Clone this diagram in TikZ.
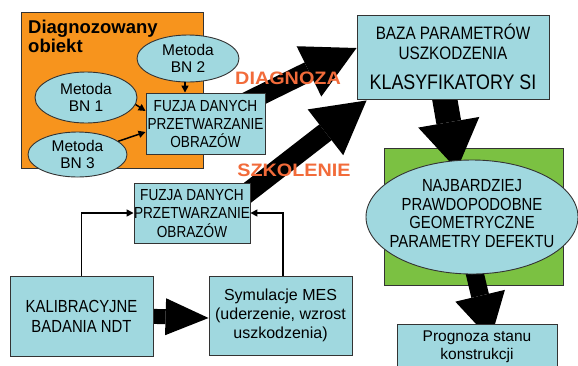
\documentclass[tikz,border=0pt]{standalone}
\usepackage{fontspec}
\setmainfont{Liberation Sans}
\newfontfamily\nar{Liberation Sans}[FakeStretch=0.85]
\newfontfamily\lblfont{Liberation Sans}[FakeStretch=1.1]
\usetikzlibrary{arrows.meta,shapes.geometric,calc}
\definecolor{cy}{HTML}{A0D8DF}
\definecolor{orbox}{HTML}{F7941D}
\definecolor{grbox}{HTML}{7BC142}
\definecolor{lbl}{HTML}{F26B3A}
\definecolor{edge}{HTML}{333333}
\pgfdeclarelayer{back}
\pgfdeclarelayer{mid}
\pgfsetlayers{back,mid,main}
\begin{document}
\begin{tikzpicture}[x=1pt,y=-1pt,
 box/.style={draw=edge, fill=cy, line width=0.9pt, inner sep=0pt, align=center, text=black},
 oval/.style={ellipse, draw=edge, fill=cy, line width=0.9pt, inner sep=0pt, align=center, text=black},
 frame/.style={draw=edge, line width=0.9pt, inner sep=0pt},
 txt/.style={inner sep=0pt, align=center, text=black},
 arr/.style={line width=1.5pt, -{Triangle[length=7pt,width=7pt]}},
 bigarrow/.style={draw=black, line cap=butt},
 capt/.style={inner sep=0pt, font=\lblfont\bfseries\fontsize{18}{20}\selectfont, text=lbl},
 bnfont/.style={font=\fontsize{15.5}{17}\selectfont}
]
\useasboundingbox (0,0) rectangle (578,365);
\clip (0,0) rectangle (578,365);

\begin{pgfonlayer}{back}
\fill[white] (0,0) rectangle (578,365);
\node[frame, fill=orbox, minimum width=182pt, minimum height=156pt] (obj) at (112,90) {};
\node[frame, fill=grbox, minimum width=179pt, minimum height=137pt] (green) at (473.5,216.5) {};
\end{pgfonlayer}

% title
\node[inner sep=0pt, anchor=north west, align=left, font=\bfseries\fontsize{18.5}{19}\selectfont] (title) at (28,20.3) {Diagnozowany\\obiekt};

% ellipses in the object
\node[oval, minimum width=102pt, minimum height=47pt, bnfont] (bn2) at (188,58.5) {Metoda\\BN 2};
\node[oval, minimum width=102pt, minimum height=51pt, bnfont] (bn1) at (86,97.5) {Metoda\\BN 1};
\node[oval, minimum width=99pt, minimum height=45pt, bnfont] (bn3) at (77.5,154.5) {Metoda\\BN 3};

\node[box, minimum width=119pt, minimum height=61pt, font=\nar\fontsize{16}{18}\selectfont] (fuz1) at (205.5,123.5) {FUZJA DANYCH\\PRZETWARZANIE\\OBRAZÓW};

% base box
\node[box, minimum width=192pt, minimum height=84pt] (baza) at (453,57) {};
\node[txt, font=\nar\fontsize{18}{20}\selectfont] (bazat) at (453,42) {BAZA PARAMETRÓW\\USZKODZENIA};
\node[txt, font=\nar\fontsize{21}{24}\selectfont] (klas) at (453,82) {KLASYFIKATORY SI};

% result ellipse
\node[oval, minimum width=212pt, minimum height=114pt] (najb) at (472,217) {};
\node[txt, font=\nar\fontsize{17.5}{18.5}\selectfont] (najbt) at (472,213.5) {NAJBARDZIEJ\\PRAWDOPODOBNE\\GEOMETRYCZNE\\PARAMETRY DEFEKTU};

\node[box, minimum width=116pt, minimum height=60pt, font=\nar\fontsize{16}{18.5}\selectfont] (fuz2) at (192,213) {FUZJA DANYCH\\PRZETWARZANIE\\OBRAZÓW};
\node[box, minimum width=143pt, minimum height=80pt, font=\nar\fontsize{17.5}{20}\selectfont] (kal) at (81.5,316) {KALIBRACYJNE\\BADANIA NDT};
\node[box, minimum width=143pt, minimum height=79pt, font=\fontsize{16}{19}\selectfont] (sym) at (280.5,315.5) {Symulacje MES\\(uderzenie, wzrost\\uszkodzenia)};
\node[box, minimum width=160pt, minimum height=46pt, font=\fontsize{15.5}{18}\selectfont] (prog) at (477,347) {Prognoza stanu\\konstrukcji};

% labels
\node[capt] (diag) at (288,78) {DIAGNOZA};
\node[capt] (szk) at (294,170) {SZKOLENIE};

% small connectors
\draw[arr] ([xshift=-3pt]bn2.south) -- ([xshift=-3pt]bn2.south |- fuz1.north);
\draw[arr] (bn1.-8) -- ([yshift=12.5pt]fuz1.west);
\draw[arr] (bn3.18) -- ([yshift=-8.5pt]fuz1.west);
\draw[arr] (kal.north) |- (fuz2.west);
\draw[arr] ([xshift=2.5pt]sym.north) |- (fuz2.east);

% big arrows
\begin{pgfonlayer}{mid}
\draw[bigarrow, line width=20pt, -{Triangle[length=53pt,width=56pt,line width=0pt]}] ([xshift=-28pt,yshift=17pt]fuz1.east) -- ([yshift=9pt]baza.west);
\draw[bigarrow, line width=20pt, -{Triangle[length=52pt,width=58pt,line width=0pt]}] ([xshift=-11pt,yshift=14pt]fuz2.east) -- ([xshift=10pt,yshift=-1pt]baza.south west);
\draw[bigarrow, line width=25pt, -{Triangle[length=48pt,width=62pt,line width=0pt]}] ([xshift=-11pt,yshift=16pt]baza.south) -- ([xshift=-15pt,yshift=-10pt]najb.north);
\draw[bigarrow, line width=18pt, -{Triangle[length=45pt,width=51pt,line width=0pt]}] ([xshift=-1pt,yshift=17pt]najb.south) -- ([xshift=13.5pt,yshift=-16pt]prog.north);
\draw[bigarrow, line width=15pt, -{Triangle[length=43pt,width=37pt,line width=0pt]}] ([xshift=-13pt]kal.east) -- ([yshift=-2.5pt]sym.west);
\end{pgfonlayer}
\end{tikzpicture}
\end{document}
